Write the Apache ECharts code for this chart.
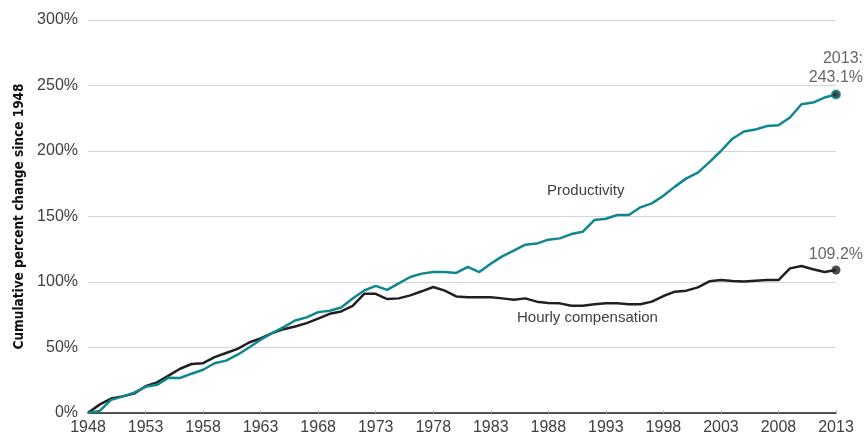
<!DOCTYPE html>
<html>
<head>
<meta charset="utf-8">
<script src="https://cdn.jsdelivr.net/npm/echarts@6/dist/echarts.min.js"></script>
<style>
html,body{margin:0;padding:0;background:#fff;}
#chart{width:864px;height:437px;}
</style>
</head>
<body>
<div id="chart"></div>
<script>
var years = [];
for (var y = 1948; y <= 2013; y++) years.push(String(y));

var productivity = [
  0, 1.5, 10, 12.5, 15.5, 20, 21.5, 27, 26.7, 30,
  33, 38, 40, 44.5, 50, 55.9, 61, 65.5, 70.6, 73,
  77, 78, 80.5, 87.4, 93.5, 97, 94, 99, 103.8, 106.4,
  107.6, 107.6, 106.9, 111.5, 107.6, 114, 119.6, 124, 128.5, 129.3,
  132.3, 133.3, 136.6, 138.4, 147.3, 148.3, 151.1, 151.1, 157, 160,
  165.9, 172.8, 179.1, 183.5, 191.5, 200, 209.4, 214.9, 216.4, 219,
  219.7, 225.6, 235.7, 237, 240.8, 243.1
];

var compensation = [
  0, 6.4, 11, 12.7, 14.8, 20.4, 23.4, 28.5, 33.8, 37.4,
  38, 42.7, 45.8, 48.9, 53.8, 57, 61, 64, 66, 68.6,
  72, 75.7, 77.5, 81.8, 91, 91, 87, 87.5, 89.8, 92.9,
  96.2, 93.4, 89, 88.3, 88.3, 88.3, 87.5, 86.5, 87.5, 85,
  84, 83.7, 81.9, 81.9, 83, 83.7, 83.7, 83, 83, 85,
  89.3, 92.6, 93.4, 95.9, 100.5, 101.5, 100.8, 100.3, 101, 101.5,
  101.5, 110.4, 112.2, 109.7, 107.6, 109.2
];

var yTicks = [0, 50, 100, 150, 200, 250, 300];

var TEAL = '#0e8790';
var DARK = '#231f20';
var TXT = '#404040';
var last = years.length - 1;

var chart = echarts.init(document.getElementById('chart'));
chart.setOption({
  animation: false,
  grid: {left: 88, right: 28, top: 20, bottom: 24, containLabel: false, outerBoundsMode: 'none'},
  xAxis: {
    type: 'category',
    data: years,
    boundaryGap: false,
    axisLine: {lineStyle: {color: DARK, width: 1.5}},
    axisTick: {show: true, interval: 4, inside: true, length: 3, lineStyle: {color: '#bbb'}},
    axisLabel: {interval: 4, color: TXT, fontSize: 16, fontFamily: 'Liberation Sans', margin: 7},
    splitLine: {show: false}
  },
  yAxis: {
    type: 'value',
    min: yTicks[0],
    max: yTicks[yTicks.length - 1],
    interval: 50,
    axisLine: {show: false},
    axisTick: {show: false},
    axisLabel: {formatter: '{value}%', color: TXT, fontSize: 16, fontFamily: 'Liberation Sans', margin: 10},
    splitLine: {lineStyle: {color: '#d6d6d6', width: 1}},
    name: 'Cumulative percent change since 1948',
    nameLocation: 'middle',
    nameGap: 62,
    nameTextStyle: {color: '#111', fontSize: 13.5, fontWeight: 'bold', fontFamily: '"Liberation Sans Narrow", "DejaVu Sans Condensed", sans-serif'}
  },
  series: [
    {
      type: 'line', data: compensation, showSymbol: false, z: 3,
      lineStyle: {color: DARK, width: 2.5}
    },
    {
      type: 'line', data: productivity, showSymbol: false, z: 4,
      lineStyle: {color: TEAL, width: 2.5}
    },
    {
      type: 'scatter', z: 5,
      data: [[years[last], productivity[last]]],
      symbol: 'circle', symbolSize: 8,
      itemStyle: {color: DARK, borderColor: TEAL, borderWidth: 2},
      label: {
        show: true, position: 'top', align: 'right', offset: [27, 3],
        formatter: years[last] + ':\n' + productivity[last].toFixed(1) + '%',
        color: TXT, fontSize: 16, lineHeight: 19, fontFamily: 'Liberation Sans'
      }
    },
    {
      type: 'scatter', z: 5,
      data: [[years[last], compensation[last]]],
      symbol: 'circle', symbolSize: 9,
      itemStyle: {color: DARK},
      label: {
        show: true, position: 'top', align: 'right', offset: [27, 2],
        formatter: compensation[last].toFixed(1) + '%',
        color: TXT, fontSize: 16, fontFamily: 'Liberation Sans'
      }
    }
  ],
  graphic: [
    {type: 'text', left: 547, top: 183, style: {text: 'Productivity', fill: TXT, fontSize: 15, fontFamily: 'Liberation Sans'}},
    {type: 'text', left: 517, top: 310, style: {text: 'Hourly compensation', fill: TXT, fontSize: 15, fontFamily: 'Liberation Sans'}}
  ]
});
</script>
</body>
</html>
